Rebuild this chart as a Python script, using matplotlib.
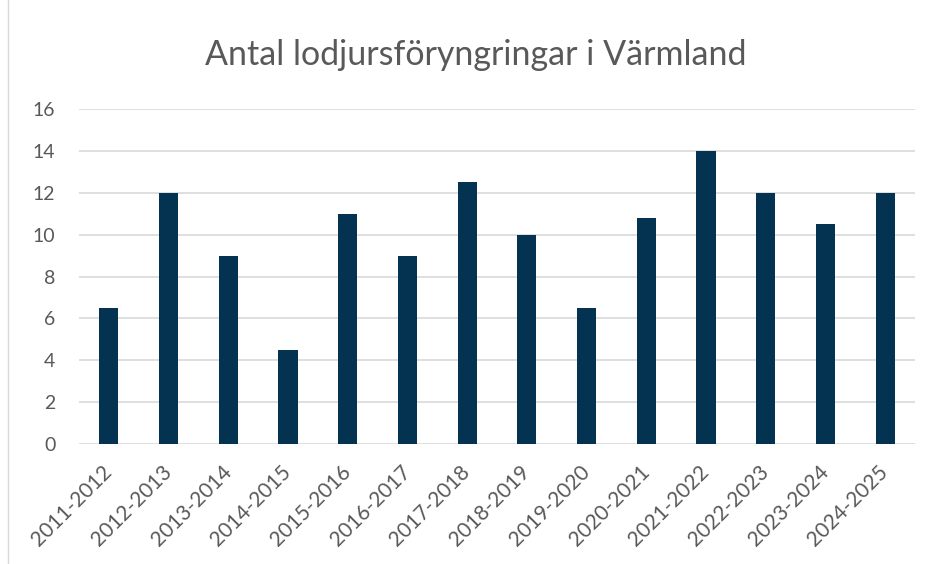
import matplotlib.pyplot as plt
from matplotlib.patches import Rectangle

plt.rcParams.update({
    "font.family": ["Lato", "DejaVu Sans"],
})

seasons = ["2011-2012", "2012-2013", "2013-2014", "2014-2015", "2015-2016",
           "2016-2017", "2017-2018", "2018-2019", "2019-2020", "2020-2021",
           "2021-2022", "2022-2023", "2023-2024", "2024-2025"]
counts = [6.5, 12, 9, 4.5, 11, 9, 12.5, 10, 6.5, 10.8, 14, 12, 10.5, 12]

TEXT = "#595959"
GRID = "#d9d9d9"
BAR = "#033351"

fig = plt.figure(figsize=(9.33, 5.64), dpi=100)
ax = fig.add_axes([79 / 933, 1 - 444 / 564, 836 / 933, 335 / 564])

x = range(len(seasons))
ax.bar(x, counts, width=0.32, color=BAR, zorder=3)

ax.set_xlim(-0.5, len(seasons) - 0.5)
ax.set_ylim(0, 16)
ax.set_yticks(range(0, 17, 2))
ax.yaxis.grid(True, color=GRID, linewidth=1.2, zorder=0)
ax.set_xticks(list(x))
ax.set_xticklabels(seasons, rotation=45, ha="right", va="center",
                   rotation_mode="anchor")
ax.tick_params(axis="both", length=0, colors=TEXT, labelsize=14)
ax.tick_params(axis="x", labelsize=15, pad=18)
ax.tick_params(axis="y", pad=17)
for s in ax.spines.values():
    s.set_visible(False)

fig.text(476 / 933, 1 - 55 / 564, "Antal lodjursföryngringar i Värmland",
         ha="center", va="center", fontsize=24.5, color=TEXT)

# outer chart border
fig.patches.append(Rectangle((8 / 933, -0.01), 2, 2, transform=fig.transFigure,
                             fill=False, edgecolor=GRID, linewidth=1))

fig.savefig("out.png", dpi=100)
